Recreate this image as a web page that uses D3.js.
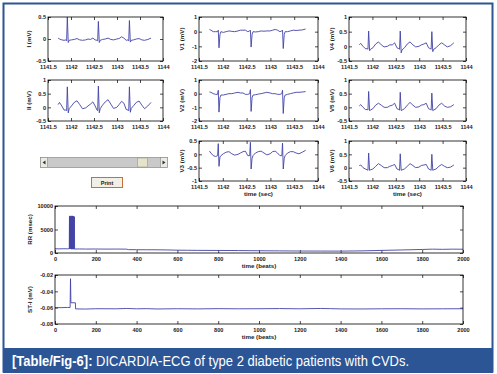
<!DOCTYPE html>
<html>
<head>
<meta charset="utf-8">
<script src="https://cdn.jsdelivr.net/npm/d3@7"></script>
<style>
  html, body { margin: 0; padding: 0; background: #fff; }
  svg { display: block; }
  .tick text { font-family: "Liberation Sans", Arial, sans-serif; font-size: 5.6px; font-weight: bold; fill: #222; }
  .tick line { stroke: #000; stroke-width: 0.7; }
  .lbl { font-family: "Liberation Sans", Arial, sans-serif; font-size: 6.2px; font-weight: bold; fill: #222; }
</style>
</head>
<body>
<script>
// ---- data ----
var ecgXTicks = [1141.5, 1142, 1142.5, 1143, 1143.5, 1144];

// sample times (sec) shared by the 8 leads
var ecgTime = [1141.72, 1141.75, 1141.80, 1141.85, 1141.89, 1141.905, 1141.92, 1141.94, 1141.96, 1142.01, 1142.07, 1142.13, 1142.19, 1142.25, 1142.32, 1142.37,
  1142.425, 1142.475, 1142.525, 1142.565, 1142.58, 1142.595, 1142.615, 1142.635, 1142.685, 1142.745, 1142.805, 1142.865, 1142.925, 1142.995, 1143.045,
  1143.10, 1143.15, 1143.20, 1143.24, 1143.255, 1143.27, 1143.29, 1143.31, 1143.36, 1143.42, 1143.48, 1143.54, 1143.60, 1143.67, 1143.74];

var leadI = [0.02, 0.0, -0.02, -0.03, -0.02, -0.04, 0.5, -0.08, -0.03, -0.02, -0.01, 0.01, -0.02, -0.03, -0.02, 0.0,
  -0.01, 0.02, -0.02, -0.03, -0.04, 0.4, -0.08, -0.03, -0.01, 0.0, 0.02, -0.01, -0.02, 0.0, 0.01,
  0.05, 0.02, -0.03, -0.02, -0.04, 0.42, -0.07, -0.03, -0.02, 0.0, 0.01, -0.02, -0.03, -0.01, 0.02];
var leadII = [0.1, 0.18, 0.05, -0.1, -0.1, -0.12, 0.75, -0.2, -0.05, 0.05, 0.18, 0.24, 0.1, -0.05, -0.02, 0.05,
  0.12, 0.2, 0.05, -0.1, -0.12, 0.78, -0.2, -0.05, 0.08, 0.2, 0.28, 0.12, -0.04, 0.0, 0.1,
  0.22, 0.15, -0.08, -0.1, -0.12, 0.75, -0.18, -0.04, 0.06, 0.18, 0.23, 0.08, -0.05, 0.05, 0.18];
var leadV1 = [0.15, 0.1, 0.0, 0.0, 0.0, 0.1, -1.1, -0.2, 0.0, -0.05, 0.0, 0.05, 0.02, 0.0, 0.05, 0.1,
  0.1, 0.1, 0.0, 0.05, 0.1, -1.05, -0.2, 0.0, -0.02, 0.0, 0.05, 0.03, 0.05, 0.05, 0.1,
  0.15, 0.1, 0.0, 0.05, 0.1, -1.15, -0.2, 0.0, 0.0, 0.05, 0.1, 0.08, 0.1, 0.12, 0.18];
var leadV2 = [0.12, 0.1, 0.0, -0.05, -0.05, 0.25, -1.35, -0.3, -0.1, -0.1, -0.05, 0.0, 0.0, 0.05, 0.1, 0.05,
  0.05, -0.05, -0.05, 0.0, 0.3, -1.3, -0.3, -0.1, -0.08, -0.03, 0.0, 0.05, 0.1, 0.05, 0.0,
  0.0, -0.05, -0.05, 0.0, 0.25, -1.45, -0.3, -0.1, -0.05, 0.0, 0.05, 0.1, 0.1, 0.12, 0.15];
var leadV3 = [0.12, 0.05, -0.05, -0.08, -0.05, 0.4, -0.45, -0.1, -0.05, 0.02, 0.08, 0.1, 0.02, -0.03, 0.0, 0.05,
  0.1, 0.12, -0.05, -0.05, 0.45, -0.55, -0.15, -0.05, 0.05, 0.1, 0.12, 0.05, -0.02, 0.02, 0.1,
  0.12, 0.05, -0.05, -0.05, 0.42, -0.55, -0.15, -0.05, 0.05, 0.1, 0.1, 0.05, 0.02, 0.08, 0.15];
var leadV4 = [0.05, 0.1, 0.0, -0.08, -0.08, -0.1, 0.52, -0.15, -0.1, -0.05, 0.08, 0.15, 0.05, -0.02, 0.0, 0.05,
  0.05, 0.12, -0.05, -0.08, -0.1, 0.52, -0.22, -0.12, -0.05, 0.08, 0.15, 0.05, -0.02, 0.0, 0.05,
  0.08, 0.12, -0.05, -0.08, -0.1, 0.5, -0.18, -0.1, -0.05, 0.05, 0.12, 0.05, -0.02, 0.02, 0.12];
var leadV5 = [0.05, 0.1, 0.0, -0.08, -0.08, -0.1, 0.58, -0.12, -0.1, -0.05, 0.08, 0.15, 0.08, 0.0, 0.0, 0.05,
  0.08, 0.15, -0.05, -0.08, -0.1, 0.55, -0.12, -0.1, -0.05, 0.08, 0.18, 0.08, 0.0, 0.02, 0.08,
  0.1, 0.15, -0.05, -0.08, -0.1, 0.52, -0.12, -0.1, -0.05, 0.08, 0.15, 0.05, 0.0, 0.02, 0.1];
var leadV6 = [0.08, 0.1, 0.0, -0.05, -0.08, -0.1, 0.55, -0.1, -0.08, -0.05, 0.05, 0.15, 0.08, 0.0, 0.0, 0.05,
  0.08, 0.12, -0.05, -0.08, -0.1, 0.52, -0.1, -0.08, -0.05, 0.05, 0.15, 0.08, 0.0, 0.02, 0.08,
  0.1, 0.12, -0.05, -0.08, -0.1, 0.5, -0.1, -0.08, -0.05, 0.05, 0.12, 0.05, 0.0, 0.02, 0.1];

// RR interval trend (msec) per beat
var rrBeats = [0, 20, 40, 60, 70, 71, 72, 74, 75, 77, 78, 80, 81, 83, 84, 86, 87, 89, 90, 92, 93, 95, 96,
  120, 150, 200, 250, 300, 350, 360, 400, 450, 500, 550, 600, 650, 700, 800, 900, 1000, 1100, 1200, 1300, 1400, 1500, 1600, 1700, 1800, 1850, 1900, 1950, 2000];
var rrValues = [900, 880, 910, 890, 900, 7800, 900, 7900, 850, 7850, 850, 7900, 800, 7800, 900, 7900, 800, 7850, 850, 7800, 800, 7700, 850,
  860, 840, 850, 830, 840, 820, 720, 700, 690, 680, 650, 600, 580, 560, 540, 520, 480, 450, 420, 410, 400, 450, 550, 650, 750, 820, 780, 820, 800];

// ST level (mV) per beat
var stBeats = [0, 30, 60, 74, 76, 78, 100, 101, 150, 200, 300, 350, 400, 450, 500, 600, 700, 800, 900, 1000, 1100, 1200, 1300, 1350, 1400, 1500, 1600, 1700, 1800, 1900, 2000];
var stValues = [-0.0598, -0.0600, -0.0597, -0.0598, -0.0245, -0.0540, -0.0540, -0.0615, -0.0617, -0.0613, -0.0614, -0.0610, -0.0614, -0.0612, -0.0616, -0.0613, -0.0615, -0.0612,
  -0.0614, -0.0613, -0.0611, -0.0614, -0.0610, -0.0612, -0.0615, -0.0616, -0.0614, -0.0613, -0.0615, -0.0614, -0.0613];

// ---- drawing ----
var W = 497, H = 374;
var lineColor = "#4343a6";
var svg = d3.select("body").append("svg").attr("width", W).attr("height", H);
svg.append("rect").attr("width", W).attr("height", H).attr("fill", "#fff");

var fmt = function(d) { return String(d); };

function panel(p) {
  var x = d3.scaleLinear().domain(p.xDom).range([p.x0, p.x1]);
  var y = d3.scaleLinear().domain(p.yDom).range([p.y1, p.y0]);
  var g = svg.append("g");

  g.append("g").attr("transform", "translate(0," + p.y1 + ")")
    .call(d3.axisBottom(x).tickValues(p.xTicks).tickFormat(fmt).tickSize(-3).tickPadding(4));
  g.append("g").attr("transform", "translate(0," + p.y0 + ")")
    .call(d3.axisTop(x).tickValues(p.xTicks).tickFormat("").tickSize(-3));
  g.append("g").attr("transform", "translate(" + p.x0 + ",0)")
    .call(d3.axisLeft(y).tickValues(p.yTicks).tickFormat(fmt).tickSize(-3).tickPadding(2));
  g.append("g").attr("transform", "translate(" + p.x1 + ",0)")
    .call(d3.axisRight(y).tickValues(p.yTicks).tickFormat("").tickSize(-3));
  g.selectAll(".domain").remove();

  var line = d3.line().x(function(d) { return x(d[0]); }).y(function(d) { return y(d[1]); });
  g.append("path").datum(d3.zip(p.xs, p.ys))
    .attr("fill", "none").attr("stroke", lineColor).attr("stroke-width", 0.9)
    .attr("stroke-linejoin", "round").attr("d", line);

  g.append("rect").attr("x", p.x0).attr("y", p.y0)
    .attr("width", p.x1 - p.x0).attr("height", p.y1 - p.y0)
    .attr("fill", "none").attr("stroke", "#000").attr("stroke-width", 0.8);

  g.append("text").attr("class", "lbl")
    .attr("transform", "translate(" + (p.x0 - p.ylabOff) + "," + ((p.y0 + p.y1) / 2) + ") rotate(-90)")
    .attr("text-anchor", "middle").text(p.ylab);

  if (p.xlab) {
    g.append("text").attr("class", "lbl")
      .attr("x", p.xlabX || (p.x0 + p.x1) / 2).attr("y", p.y1 + 15)
      .attr("text-anchor", "middle").text(p.xlab);
  }
}

var cols = [[48, 163], [199, 318], [349, 466]];
var rows = [[17, 61], [80, 121], [141, 181]];
var leads = [
  { c: 0, r: 0, ys: leadI,  yDom: [-0.5, 0.5], yTicks: [-0.5, 0, 0.5], ylab: "I (mV)" },
  { c: 0, r: 1, ys: leadII, yDom: [-0.5, 1], yTicks: [-0.5, 0, 0.5, 1], ylab: "II (mV)" },
  { c: 1, r: 0, ys: leadV1, yDom: [-2, 1], yTicks: [-2, -1, 0, 1], ylab: "V1 (mV)" },
  { c: 1, r: 1, ys: leadV2, yDom: [-2, 1], yTicks: [-2, -1, 0, 1], ylab: "V2 (mV)" },
  { c: 1, r: 2, ys: leadV3, yDom: [-1, 0.5], yTicks: [-1, -0.5, 0, 0.5], ylab: "V3 (mV)", xlab: "time (sec)" },
  { c: 2, r: 0, ys: leadV4, yDom: [-0.5, 1], yTicks: [-0.5, 0, 0.5, 1], ylab: "V4 (mV)" },
  { c: 2, r: 1, ys: leadV5, yDom: [-0.5, 1], yTicks: [-0.5, 0, 0.5, 1], ylab: "V5 (mV)" },
  { c: 2, r: 2, ys: leadV6, yDom: [-0.5, 1], yTicks: [-0.5, 0, 0.5, 1], ylab: "V6 (mV)", xlab: "time (sec)" }
];
var ylabOffsets = [17, 15, 15];
leads.forEach(function(l) {
  panel({
    x0: cols[l.c][0], x1: cols[l.c][1], y0: rows[l.r][0], y1: rows[l.r][1],
    xDom: [1141.5, 1144], xTicks: ecgXTicks, xs: ecgTime, ys: l.ys,
    yDom: l.yDom, yTicks: l.yTicks, ylab: l.ylab, ylabOff: ylabOffsets[l.c], xlab: l.xlab
  });
});

var beatTicks = d3.range(0, 2001, 200);
panel({ x0: 55, x1: 463, y0: 206, y1: 253, xDom: [0, 2000], xTicks: beatTicks,
  xs: rrBeats, ys: rrValues, yDom: [0, 10000], yTicks: [0, 5000, 10000],
  ylab: "RR (msec)", ylabOff: 23, xlab: "time (beats)", xlabX: 259 });
panel({ x0: 55, x1: 463, y0: 275, y1: 324, xDom: [0, 2000], xTicks: beatTicks,
  xs: stBeats, ys: stValues, yDom: [-0.08, -0.02], yTicks: [-0.08, -0.06, -0.04, -0.02],
  ylab: "ST-I (mV)", ylabOff: 23, xlab: "time (beats)", xlabX: 259 });

// slider + print button (GUI widgets)
var ui = svg.append("g");
ui.append("rect").attr("x", 40.5).attr("y", 157.5).attr("width", 127).attr("height", 10)
  .attr("fill", "#c9c9c9").attr("stroke", "#8a8a8a").attr("stroke-width", 0.7);
[40.5, 160.5].forEach(function(bx) {
  ui.append("rect").attr("x", bx).attr("y", 157.5).attr("width", 7).attr("height", 10)
    .attr("fill", "#ecebe3").attr("stroke", "#8a8a8a").attr("stroke-width", 0.6);
});
ui.append("path").attr("d", "M42.5,162.5 L45.5,160.5 L45.5,164.5 Z").attr("fill", "#333");
ui.append("path").attr("d", "M165.5,162.5 L162.5,160.5 L162.5,164.5 Z").attr("fill", "#333");
ui.append("rect").attr("x", 137.5).attr("y", 158).attr("width", 10).attr("height", 9)
  .attr("fill", "#e6e3cc").attr("stroke", "#9a9a8a").attr("stroke-width", 0.6);
ui.append("rect").attr("x", 91.5).attr("y", 177.5).attr("width", 31).attr("height", 10)
  .attr("fill", "#f1efe6").attr("stroke", "#c8703a").attr("stroke-width", 1);
ui.append("text").attr("class", "lbl").attr("x", 107).attr("y", 184.8)
  .attr("text-anchor", "middle").style("font-size", "5.5px").text("Print");

// frame and caption bar
var blue = "#2c5596";
svg.append("rect").attr("x", 3.5).attr("y", 3.5).attr("width", 489).attr("height", 368)
  .attr("fill", "none").attr("stroke", blue).attr("stroke-width", 2);
svg.append("rect").attr("x", 3).attr("y", 348).attr("width", 490).attr("height", 25).attr("fill", blue);
var cap = svg.append("text").attr("x", 12).attr("y", 366)
  .attr("textLength", 397).attr("lengthAdjust", "spacingAndGlyphs")
  .style("font-family", "'Liberation Sans', Arial, sans-serif").style("font-size", "14px").attr("fill", "#fff");
cap.append("tspan").style("font-weight", "bold").text("[Table/Fig-6]:");
cap.append("tspan").text(" DICARDIA-ECG of type 2 diabetic patients with CVDs.");
</script>
</body>
</html>
